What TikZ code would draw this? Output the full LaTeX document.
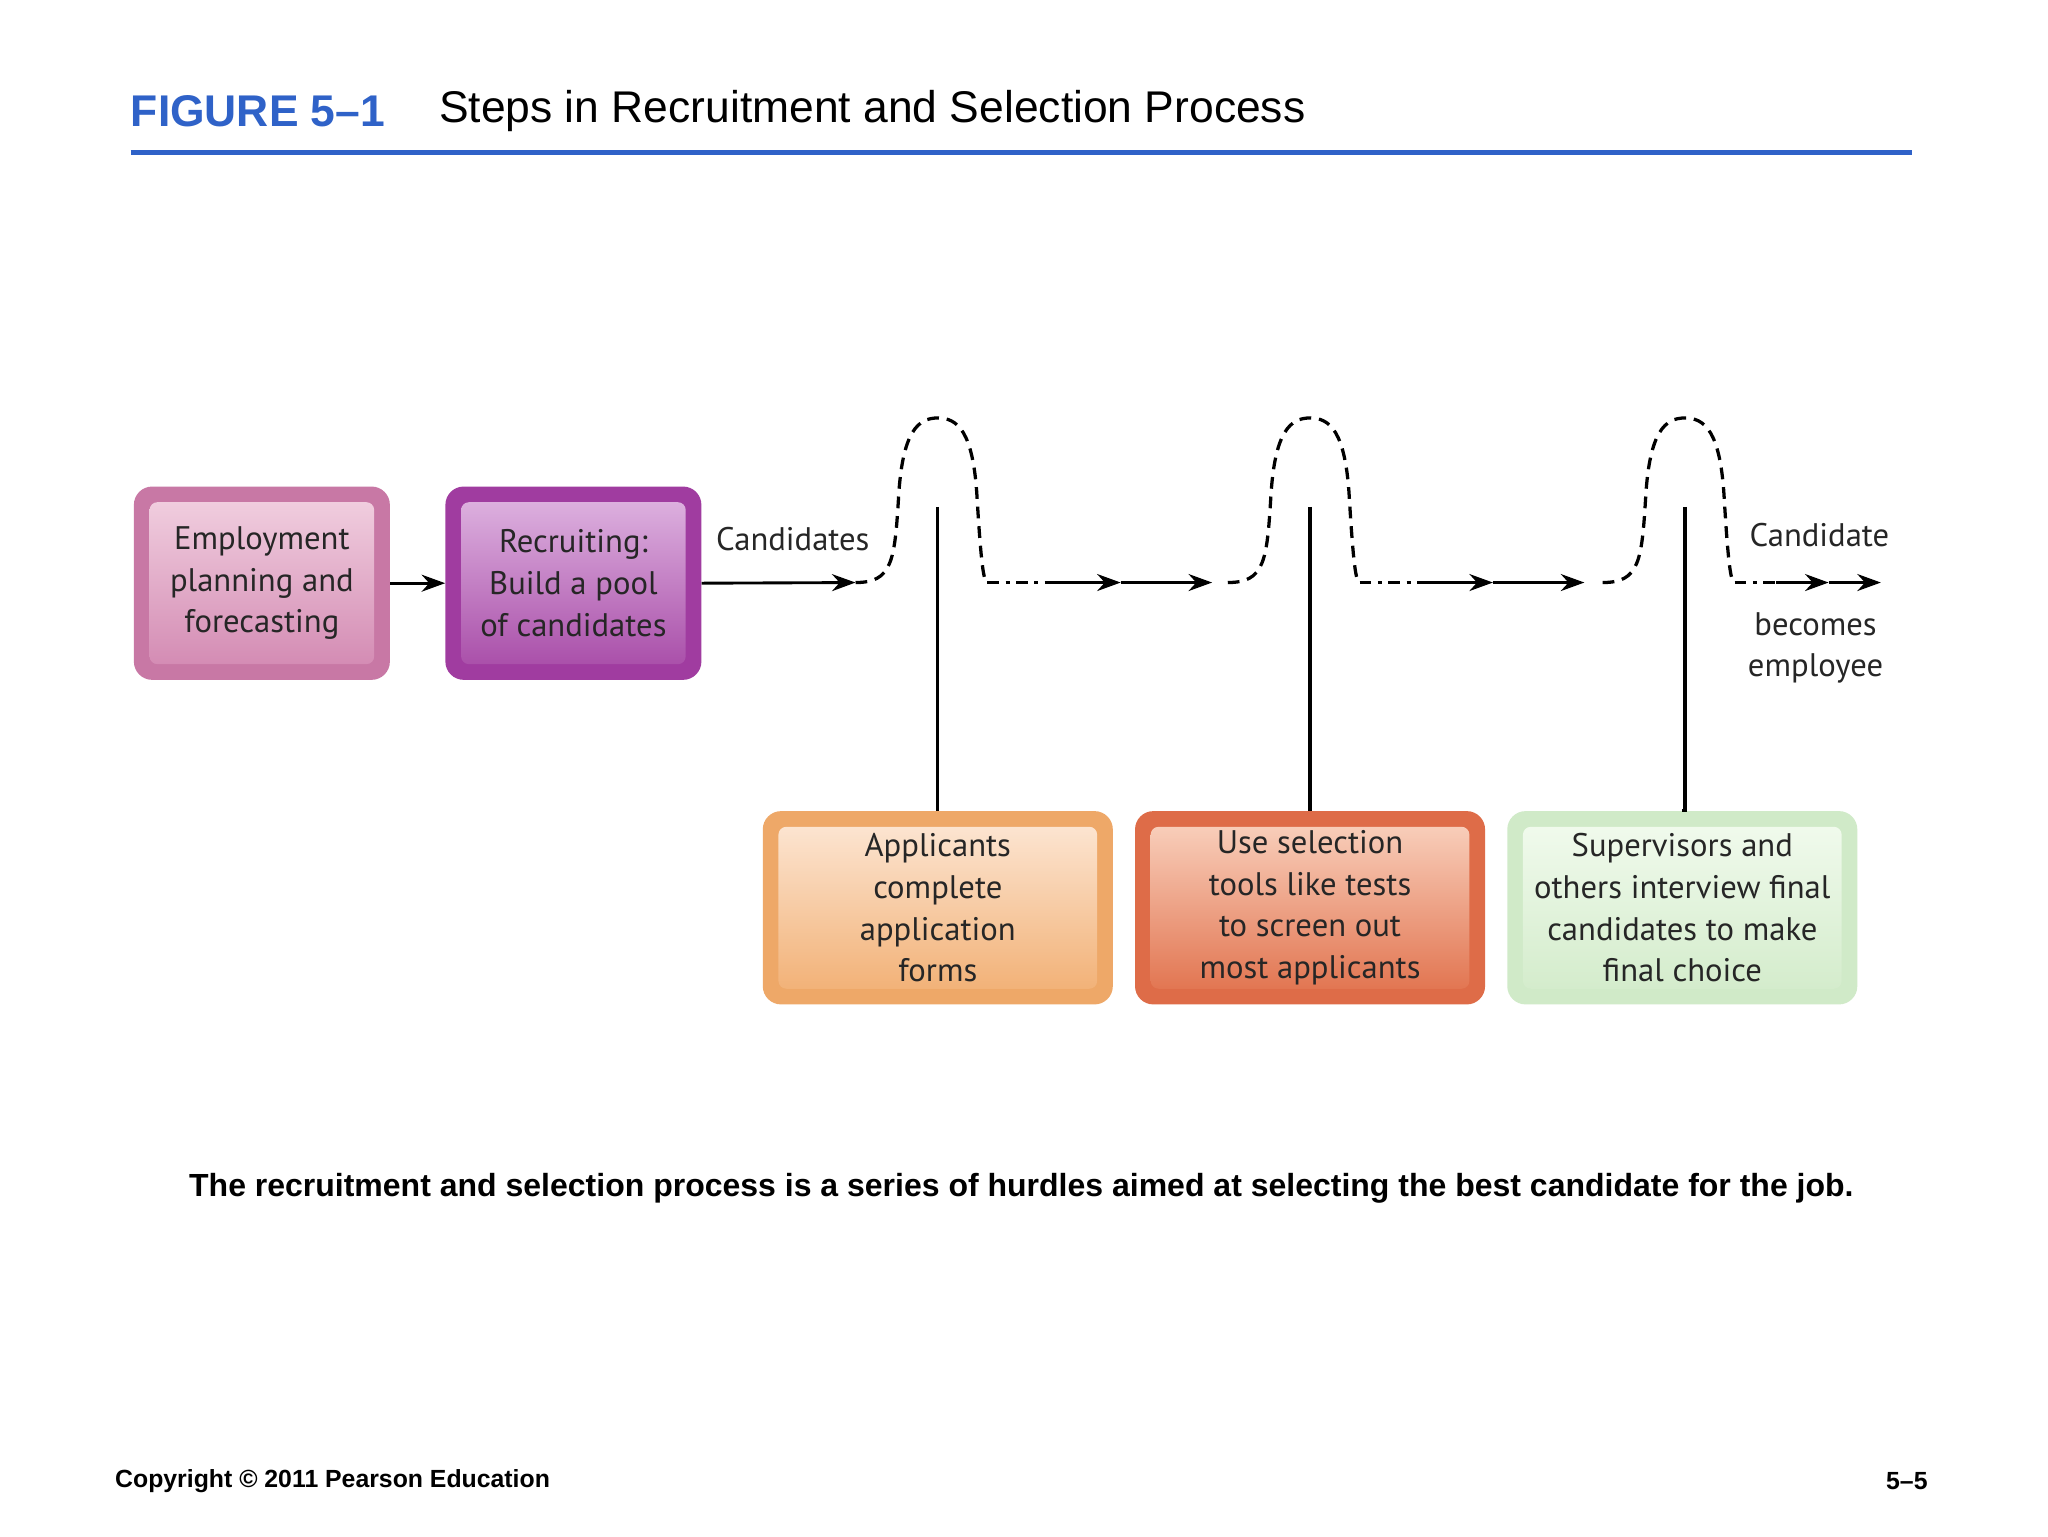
\documentclass[tikz,border=0pt]{standalone}
\usepackage{fontspec}
\setmainfont{Liberation Sans}
\newfontfamily\boxfont{PT Sans}
\usetikzlibrary{arrows.meta,positioning}
\definecolor{figblue}{HTML}{2F62C8}
\tikzset{
  outer/.style={rounded corners=14pt,minimum width=196pt,minimum height=148pt,inner sep=0pt},
  inner/.style={rounded corners=6pt,minimum width=172pt,minimum height=124pt,align=center,font=\boxfont\fontsize{25}{32}\selectfont,inner sep=0pt,text=black!85},
  wide/.style={minimum width=268pt},
  widein/.style={minimum width=244pt},
  conn/.style={line width=2.5pt},
  arr/.style={line width=2.2pt,-{Stealth[length=18pt,width=13pt]}},
  hump/.style={line width=2.5pt,dash pattern=on 9pt off 6pt},
  dd/.style={line width=2.5pt,dash pattern=on 9pt off 5pt on 3pt off 5pt},
  lbl/.style={font=\boxfont\fontsize{25}{32}\selectfont,text=black!85,align=center}
}
\begin{document}
\begin{tikzpicture}[x=1pt,y=-1pt]
\useasboundingbox (0,0) rectangle (1568,1176);
\fill[white] (0,0) rectangle (1568,1176);
% title
\node[anchor=west,font=\bfseries\fontsize{34}{40}\selectfont,text=figblue,inner sep=0] (fig) at (100,85) {FIGURE 5–1};
\node[anchor=west,font=\fontsize{34}{40}\selectfont,inner sep=0] (ttl) at (336,85) {Steps in Recruitment and Selection Process};
\draw[figblue,line width=4pt] (100,117) -- (1464,117);
% top boxes
\node[outer,fill={rgb,255:red,200;green,120;blue,165}] (b1o) at (200.5,446.5) {};
\node[inner,top color={rgb,255:red,240;green,205;blue,222},bottom color={rgb,255:red,212;green,140;blue,180}] (b1) at (200.5,446.5) {Employment\\planning and\\forecasting};
\node[outer,fill={rgb,255:red,160;green,60;blue,160}] (b2o) at (439,446.5) {};
\node[inner,top color={rgb,255:red,220;green,175;blue,222},bottom color={rgb,255:red,170;green,80;blue,170}] (b2) at (439,446.5) {Recruiting:\\Build a pool\\of candidates};
\draw[arr] (b1o.east) -- (b2o.west);
% bottom boxes
\node[outer,wide,fill={rgb,255:red,238;green,168;blue,104}] (c1o) at (718,695) {};
\node[inner,widein,top color={rgb,255:red,252;green,228;blue,208},bottom color={rgb,255:red,242;green,178;blue,120}] (c1) at (718,695) {Applicants\\complete\\application\\forms};
\node[outer,wide,fill={rgb,255:red,222;green,108;blue,72}] (c2o) at (1003,695) {};
\node[inner,widein,top color={rgb,255:red,248;green,205;blue,185},bottom color={rgb,255:red,226;green,118;blue,82}] (c2) at (1003,695) {Use selection\\tools like tests\\to screen out\\most applicants};
\node[outer,wide,fill={rgb,255:red,208;green,234;blue,200}] (c3o) at (1288,695) {};
\node[inner,widein,top color={rgb,255:red,240;green,250;blue,236},bottom color={rgb,255:red,212;green,236;blue,204}] (c3) at (1288,695) {Supervisors and\\others interview final\\candidates to make\\final choice};
% labels
\node[lbl] (cand) at (607,413) {Candidates};
\node[lbl] (cand2) at (1393,410) {Candidate};
\node[lbl] (emp) at (1390,496) {becomes\\employee};
% main line
\coordinate (s1) at (655,446);
\draw[arr] (b2o.east) -- (s1);
\foreach \c/\n in {718/1,1003/2,1290/3}{
  \draw[hump] (\c-63,446) .. controls (\c-35,446) and (\c-33,430) .. (\c-30,380)
     .. controls (\c-27,330) and (\c-15,320) .. (\c,320)
     .. controls (\c+15,320) and (\c+27,330) .. (\c+30,380)
     .. controls (\c+33,430) and (\c+35,446) .. (\c+38,446);
  \coordinate (v\n) at (\c,388);
}
\draw[conn] (v1) -- (c1o.north);
\draw[conn] (v2) -- (c2o.north);
\draw[conn] (v3) |- (c3o.north);
\coordinate (a1) at (756,446); \coordinate (a2) at (800,446);
\coordinate (a3) at (858,446); \coordinate (a4) at (928,446);
\draw[dd] (a1) -- (a2); \draw[arr] (a2) -- (a3); \draw[arr] (a3) -- (a4);
\coordinate (d1) at (1041,446); \coordinate (d2) at (1085,446);
\coordinate (d3) at (1143,446); \coordinate (d4) at (1213,446);
\draw[dd] (d1) -- (d2); \draw[arr] (d2) -- (d3); \draw[arr] (d3) -- (d4);
\coordinate (e1) at (1328,446); \coordinate (e2) at (1360,446);
\coordinate (e3) at (1400,446); \coordinate (e4) at (1440,446);
\draw[dd] (e1) -- (e2); \draw[arr] (e2) -- (e3); \draw[arr] (e3) -- (e4);
% caption
\node[font=\bfseries\fontsize{24.5}{30}\selectfont] (cap) at (782,910) {The recruitment and selection process is a series of hurdles aimed at selecting the best candidate for the job.};
\node[anchor=west,font=\bfseries\fontsize{19}{24}\selectfont,inner sep=0] (copy) at (88,1134) {Copyright © 2011 Pearson Education};
\node[anchor=east,font=\bfseries\fontsize{19}{24}\selectfont,inner sep=0] (pg) at (1476,1134) {5–5};
\end{tikzpicture}
\end{document}
